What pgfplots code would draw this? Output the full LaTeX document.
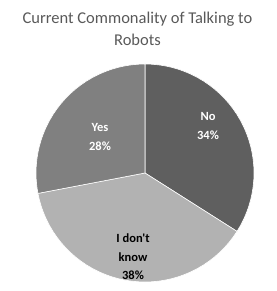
\documentclass[border=0pt]{standalone}
\usepackage{pgfplots}
\pgfplotsset{compat=1.18}
\usepgfplotslibrary{polar}
\usepackage{fontspec}
\setmainfont{Carlito}
\newfontfamily\plainfont{Carlito}[Mapping=]
\definecolor{noC}{HTML}{5F5F5F}
\definecolor{yesC}{HTML}{808080}
\definecolor{idkC}{HTML}{B2B2B2}
\definecolor{titleC}{HTML}{595959}
\begin{document}
\begin{tikzpicture}
\useasboundingbox (-145pt,-118pt) rectangle (131pt,173pt);
\begin{polaraxis}[at={(0,0)}, anchor=origin, width=218pt, height=218pt, scale only axis, hide axis, ymin=0, ymax=1, xmin=0, xmax=360, clip=false]
% No 34%
\addplot[draw=white, line width=0.6pt, fill=noC] coordinates {(0,0) (90,1) (86.4,1) (82.8,1) (79.2,1) (75.6,1) (72,1) (68.4,1) (64.8,1) (61.2,1) (57.6,1) (54,1) (50.4,1) (46.8,1) (43.2,1) (39.6,1) (36,1) (32.4,1) (28.8,1) (25.2,1) (21.6,1) (18,1) (14.4,1) (10.8,1) (7.2,1) (3.6,1) (0,1) (-3.6,1) (-7.2,1) (-10.8,1) (-14.4,1) (-18,1) (-21.6,1) (-25.2,1) (-28.8,1) (-32.4,1) (0,0)};
% I don't know 38%
\addplot[draw=white, line width=0.6pt, fill=idkC] coordinates {(0,0) (-32.4,1) (-36,1) (-39.6,1) (-43.2,1) (-46.8,1) (-50.4,1) (-54,1) (-57.6,1) (-61.2,1) (-64.8,1) (-68.4,1) (-72,1) (-75.6,1) (-79.2,1) (-82.8,1) (-86.4,1) (-90,1) (-93.6,1) (-97.2,1) (-100.8,1) (-104.4,1) (-108,1) (-111.6,1) (-115.2,1) (-118.8,1) (-122.4,1) (-126,1) (-129.6,1) (-133.2,1) (-136.8,1) (-140.4,1) (-144,1) (-147.6,1) (-151.2,1) (-154.8,1) (-158.4,1) (-162,1) (-165.6,1) (-169.2,1) (0,0)};
% Yes 28%
\addplot[draw=white, line width=0.6pt, fill=yesC] coordinates {(0,0) (-169.2,1) (-172.8,1) (-176.4,1) (-180,1) (-183.6,1) (-187.2,1) (-190.8,1) (-194.4,1) (-198,1) (-201.6,1) (-205.2,1) (-208.8,1) (-212.4,1) (-216,1) (-219.6,1) (-223.2,1) (-226.8,1) (-230.4,1) (-234,1) (-237.6,1) (-241.2,1) (-244.8,1) (-248.4,1) (-252,1) (-255.6,1) (-259.2,1) (-262.8,1) (-266.4,1) (-270,1) (0,0)};
\end{polaraxis}
\node[align=center, text=white, font=\bfseries\fontsize{12.5}{19}\selectfont] at (63pt,46.5pt) {No\\34\%};
\node[align=center, text=white, font=\bfseries\fontsize{12.5}{19}\selectfont] at (-45pt,35.5pt) {Yes\\28\%};
\node[align=center, text=black, font=\plainfont\bfseries\fontsize{12.5}{18.5}\selectfont] at (-12pt,-84pt) {I don't\\know\\38\%};
\node[align=center, text=titleC, font=\fontsize{16.5}{22}\selectfont] at (-7.5pt,144pt) {Current Commonality of Talking to\\Robots};
\end{tikzpicture}
\end{document}
